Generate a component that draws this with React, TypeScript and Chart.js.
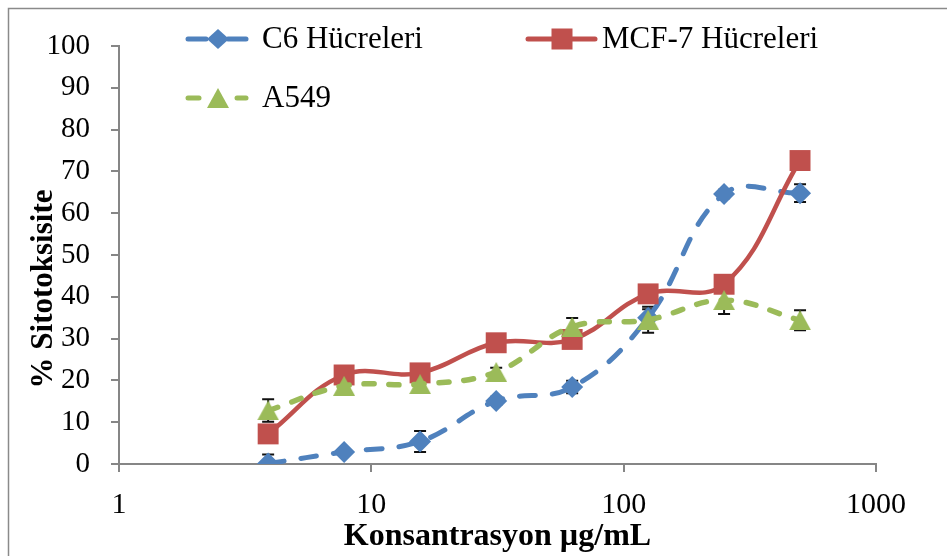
import { useEffect, useRef } from 'react';
import { Chart, registerables } from 'chart.js';

Chart.register(...registerables);

// ---- Data ----
const concentrations = [3.9, 7.8, 15.6, 31.25, 62.5, 125, 250, 500];
const seriesNames = ['C6 Hücreleri', 'MCF-7 Hücreleri', 'A549'];
const c6Values = [0.1, 2.9, 5.4, 15.1, 18.4, 35.0, 64.6, 64.8];
const c6Errors = [2.2, 0.6, 2.5, 1.0, 1.5, 2.0, 1.0, 2.1];
const mcf7Values = [7.2, 21.3, 21.8, 29.0, 29.8, 40.7, 43.0, 72.6];
const mcf7Errors = [0.8, 0.8, 0.8, 0.8, 0.8, 1.0, 1.0, 0.8];
const a549Values = [12.8, 18.7, 19.1, 22.0, 32.8, 34.5, 39.2, 34.4];
const a549Errors = [2.7, 0.8, 0.8, 1.0, 2.1, 3.1, 3.3, 2.4];
const xTickValues = [1, 10, 100, 1000];
const xTitle = 'Konsantrasyon µg/mL';
const yTitle = '% Sitotoksisite';

const BLUE = '#4F81BD';
const RED = '#C0504D';
const GREEN = '#9BBB59';
const AXIS = '#868686';
const FONT = "'Liberation Serif', 'Times New Roman', serif";

function makeTriangle(): HTMLCanvasElement {
  const c = document.createElement('canvas');
  c.width = 22;
  c.height = 20;
  const g = c.getContext('2d')!;
  g.fillStyle = GREEN;
  g.beginPath();
  g.moveTo(11, 0);
  g.lineTo(22, 20);
  g.lineTo(0, 20);
  g.closePath();
  g.fill();
  return c;
}

export default function App() {
  const ref = useRef<HTMLCanvasElement>(null);

  useEffect(() => {
    const tri = makeTriangle();
    const errors = [c6Errors, mcf7Errors, a549Errors];
    const values = [c6Values, mcf7Values, a549Values];

    const drawMarker = (ctx: CanvasRenderingContext2D, kind: number, x: number, y: number) => {
      ctx.save();
      if (kind === 0) {
        ctx.fillStyle = BLUE;
        ctx.beginPath();
        ctx.moveTo(x - 11, y);
        ctx.lineTo(x, y - 10);
        ctx.lineTo(x + 11, y);
        ctx.lineTo(x, y + 10);
        ctx.closePath();
        ctx.fill();
      } else if (kind === 1) {
        ctx.fillStyle = RED;
        ctx.fillRect(x - 10.5, y - 10.5, 21, 21);
      } else {
        ctx.drawImage(tri, x - 11, y - 10);
      }
      ctx.restore();
    };

    const seg = (ctx: CanvasRenderingContext2D, color: string, w: number, x1: number, x2: number, y: number) => {
      ctx.save();
      ctx.strokeStyle = color;
      ctx.lineWidth = w;
      ctx.lineCap = 'round';
      ctx.beginPath();
      ctx.moveTo(x1, y);
      ctx.lineTo(x2, y);
      ctx.stroke();
      ctx.restore();
    };

    const custom = {
      id: 'custom',
      beforeDraw(chart: any) {
        const ctx = chart.ctx;
        ctx.save();
        ctx.fillStyle = '#fff';
        ctx.fillRect(0, 0, chart.width, chart.height);
        ctx.strokeStyle = '#8a8a8a';
        ctx.lineWidth = 1.5;
        ctx.strokeRect(8.5, 8.5, 1200, 1200);
        ctx.restore();
      },
      beforeDatasetsDraw(chart: any) {
        const ctx = chart.ctx;
        const ys = chart.scales.y;
        ctx.save();
        ctx.strokeStyle = '#111';
        ctx.lineWidth = 2;
        for (let i = 0; i < 3; i++) {
          const meta = chart.getDatasetMeta(i);
          meta.data.forEach((pt: any, j: number) => {
            const v = values[i][j];
            const e = errors[i][j];
            const top = ys.getPixelForValue(v + e);
            const bot = ys.getPixelForValue(Math.max(0, v - e));
            const x = pt.x;
            ctx.beginPath();
            ctx.moveTo(x, top);
            ctx.lineTo(x, bot);
            ctx.moveTo(x - 6, top);
            ctx.lineTo(x + 6, top);
            if (v - e > 0) {
              ctx.moveTo(x - 6, bot);
              ctx.lineTo(x + 6, bot);
            }
            ctx.stroke();
          });
        }
        ctx.restore();
      },
      afterDraw(chart: any) {
        const ctx = chart.ctx;
        // Legend
        ctx.save();
        ctx.font = `31px ${FONT}`;
        ctx.fillStyle = '#000';
        ctx.textBaseline = 'middle';
        ctx.textAlign = 'left';
        // C6
        seg(ctx, BLUE, 5, 188, 206, 39);
        seg(ctx, BLUE, 5, 228, 246, 39);
        drawMarker(ctx, 0, 218, 39);
        ctx.fillText(seriesNames[0], 262, 40);
        // MCF-7
        seg(ctx, RED, 5, 528, 595, 39);
        drawMarker(ctx, 1, 562, 39);
        ctx.fillText(seriesNames[1], 602, 40);
        // A549
        seg(ctx, GREEN, 5, 188, 199, 98);
        seg(ctx, GREEN, 5, 237, 246, 98);
        drawMarker(ctx, 2, 218, 98);
        ctx.fillText(seriesNames[2], 262, 99);
        // Y title
        ctx.translate(44, 289);
        ctx.rotate(-Math.PI / 2);
        ctx.font = `bold 31px ${FONT}`;
        ctx.textAlign = 'center';
        ctx.fillText(yTitle, 0, 0);
        ctx.restore();
      },
    };

    const mk = (vals: number[]) => concentrations.map((x, i) => ({ x, y: vals[i] }));

    const chart = new Chart(ref.current!, {
      type: 'line',
      data: {
        datasets: [
          {
            label: seriesNames[0],
            data: mk(c6Values),
            borderColor: BLUE,
            backgroundColor: BLUE,
            borderWidth: 5,
            borderDash: [16, 17],
            borderCapStyle: 'round',
            tension: 0.4,
            pointStyle: 'rectRot',
            pointRadius: 11,
            pointBorderWidth: 0,
            order: 3,
          },
          {
            label: seriesNames[1],
            data: mk(mcf7Values),
            borderColor: RED,
            backgroundColor: RED,
            borderWidth: 4.5,
            borderCapStyle: 'round',
            tension: 0.4,
            pointStyle: 'rect',
            pointRadius: 14.8,
            pointBorderWidth: 0,
            order: 2,
          },
          {
            label: seriesNames[2],
            data: mk(a549Values),
            borderColor: GREEN,
            backgroundColor: GREEN,
            borderWidth: 5.5,
            borderDash: [10, 15],
            borderCapStyle: 'round',
            tension: 0.4,
            pointStyle: tri,
            pointRadius: 11,
            pointBorderWidth: 0,
            order: 1,
          },
        ],
      } as any,
      options: {
        responsive: false,
        animation: false,
        layout: { padding: { top: 46, right: 71, left: 0, bottom: 0 } },
        plugins: { legend: { display: false }, tooltip: { enabled: false } },
        scales: {
          x: {
            type: 'logarithmic',
            min: 1,
            max: 1000,
            afterBuildTicks: (s: any) => {
              s.ticks = xTickValues.map((v) => ({ value: v }));
            },
            afterFit: (s: any) => {
              s.height = 92;
            },
            ticks: {
              callback: (v: any) => String(v),
              font: { family: FONT, size: 30 },
              color: '#000',
              padding: 15,
              autoSkip: false,
              maxRotation: 0,
            },
            grid: { drawOnChartArea: false, tickLength: 8, color: AXIS, lineWidth: 2 },
            border: { color: AXIS, width: 2 },
            title: {
              display: true,
              text: xTitle,
              font: { family: FONT, size: 32, weight: 'bold' },
              color: '#000',
              padding: 0,
            },
          },
          y: {
            min: 0,
            max: 100,
            afterFit: (s: any) => {
              s.width = 119;
            },
            ticks: {
              stepSize: 10,
              font: { family: FONT, size: 29 },
              color: '#000',
              padding: 21,
            },
            grid: { drawOnChartArea: false, tickLength: 8, color: AXIS, lineWidth: 2 },
            border: { color: AXIS, width: 2 },
          },
        },
      } as any,
      plugins: [custom],
    });
    return () => chart.destroy();
  }, []);

  return (
    <div style={{ position: 'fixed', left: 0, top: 0, width: 947, height: 556 }}>
      <canvas ref={ref} width={947} height={556} style={{ display: 'block' }} />
    </div>
  );
}
